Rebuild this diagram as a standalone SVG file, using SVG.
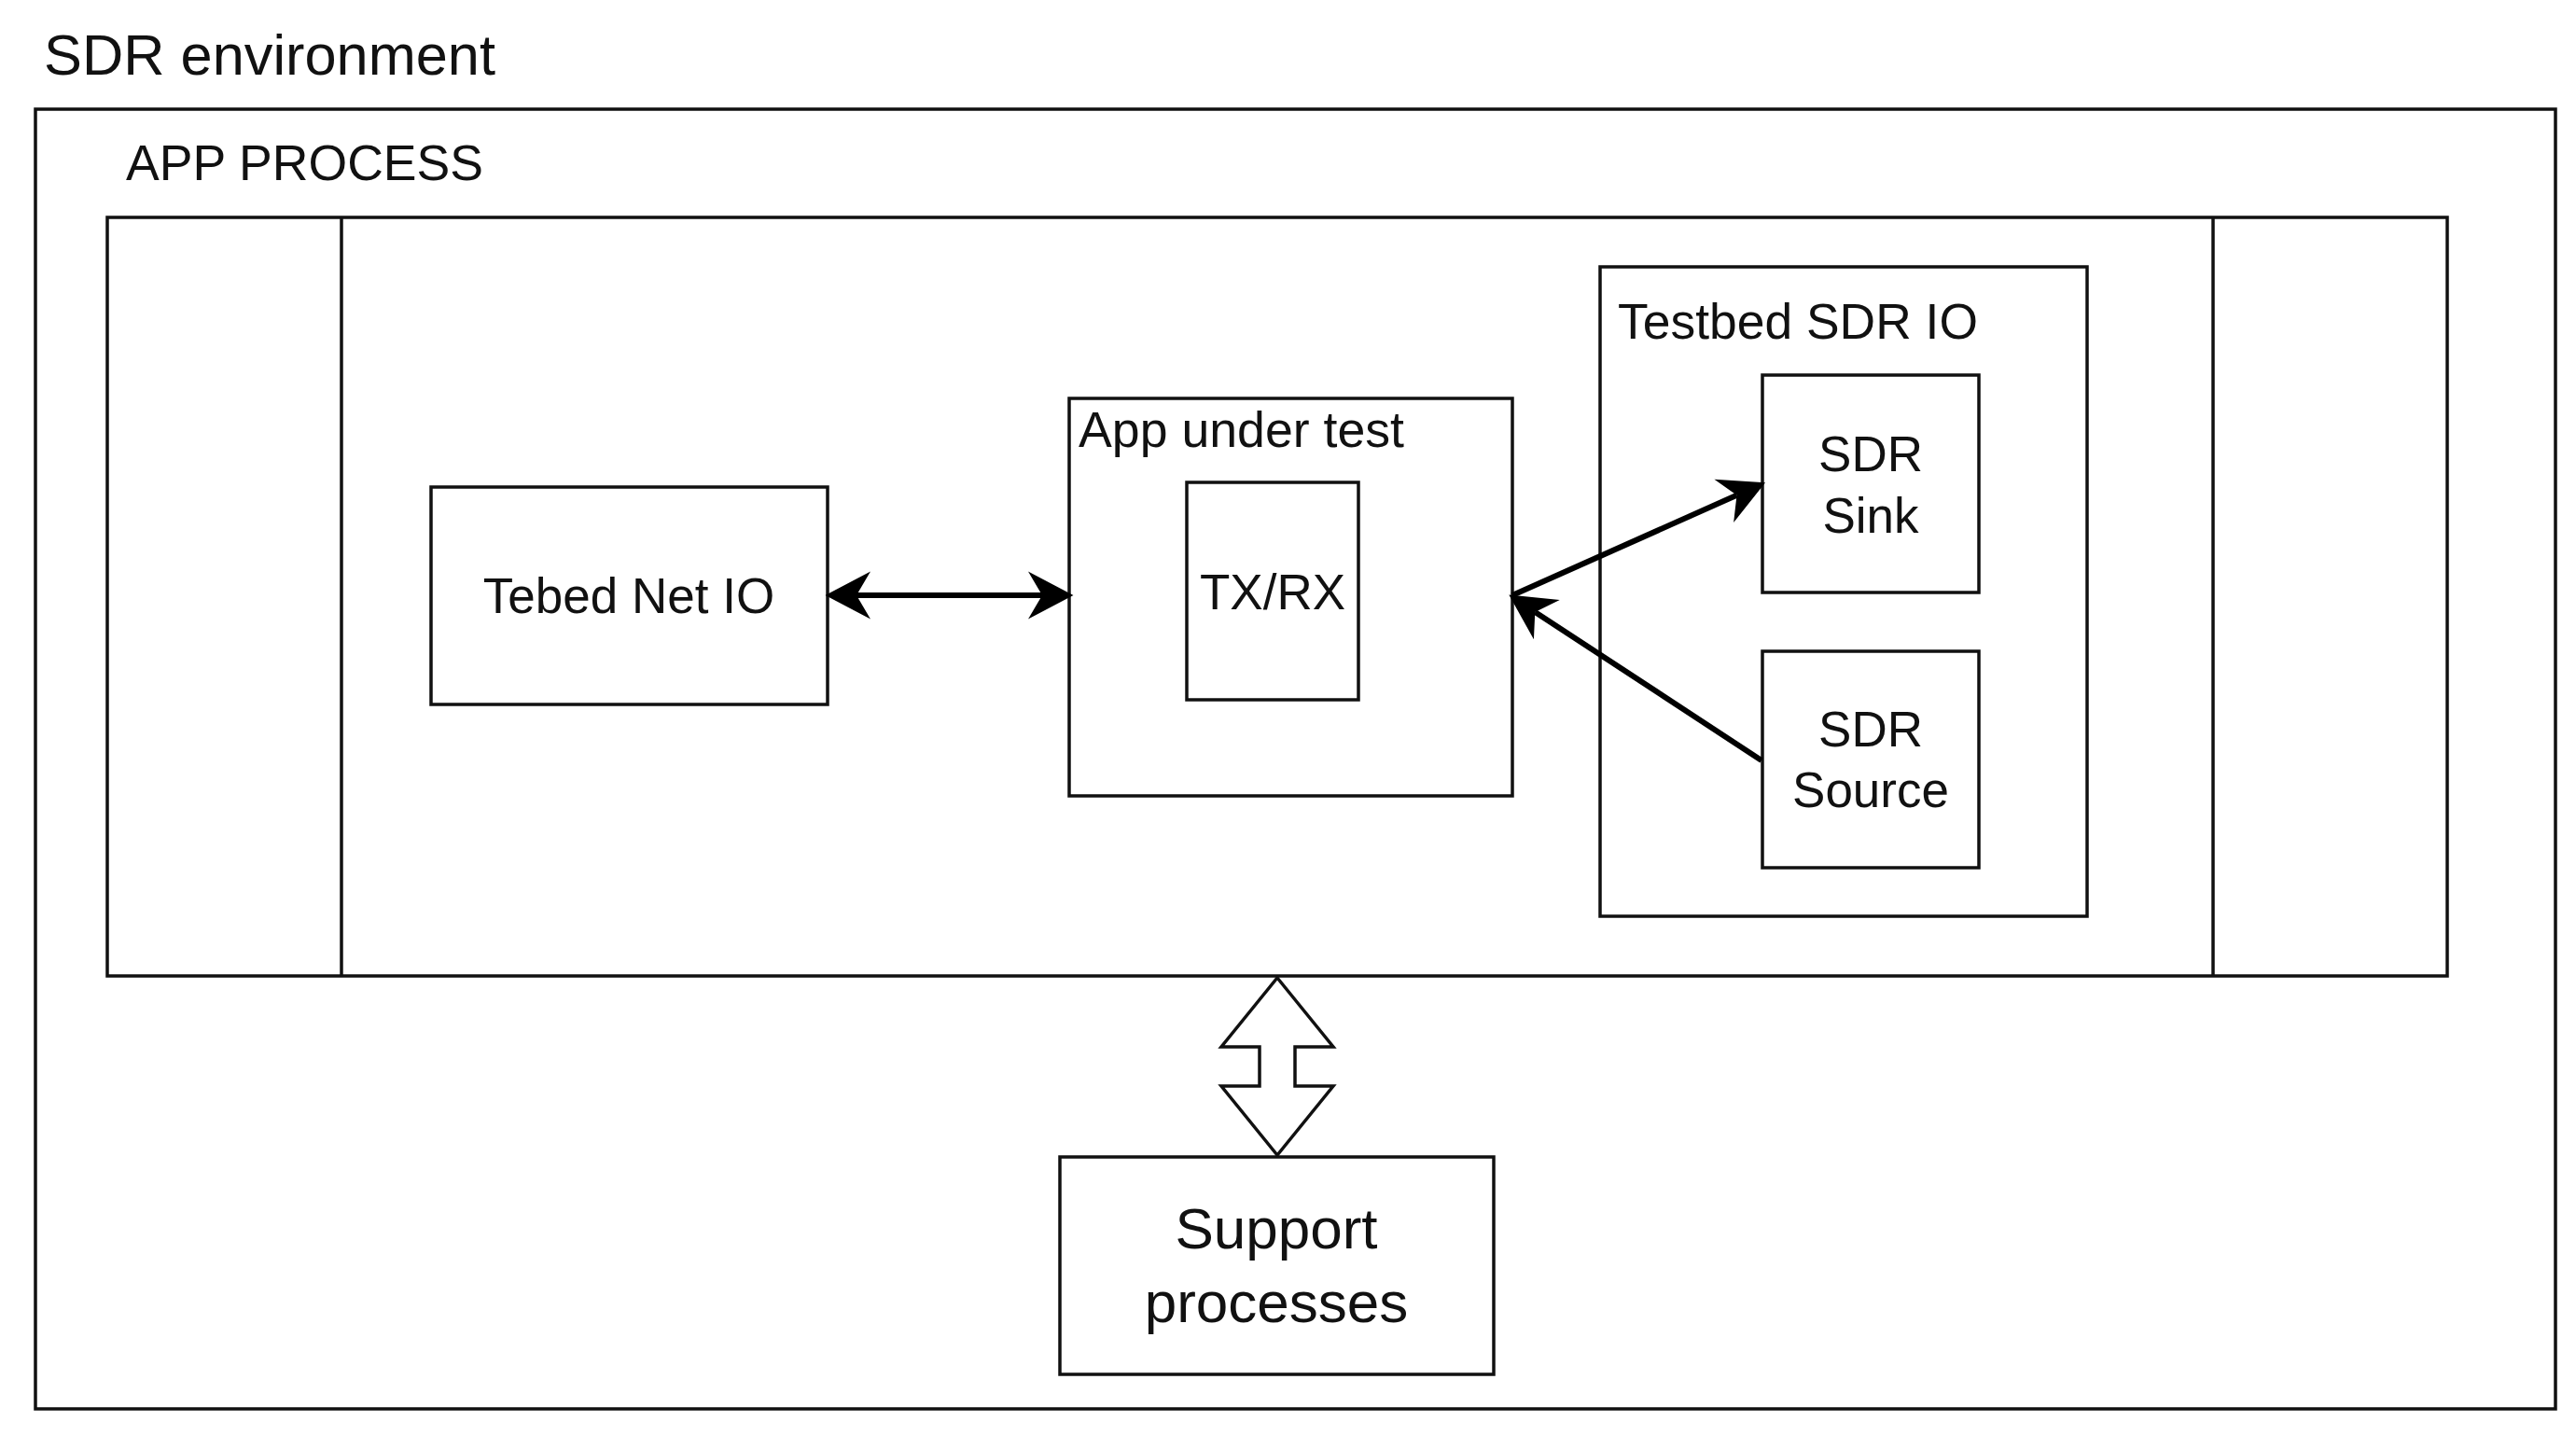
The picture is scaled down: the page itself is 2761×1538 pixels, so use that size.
<svg xmlns="http://www.w3.org/2000/svg" width="2761" height="1538" viewBox="0 0 2761 1538">
<style>
.box{fill:#fff;stroke:#111;stroke-width:3.5}
.ln{fill:none;stroke:#111;stroke-width:3.5}
.t{font-family:"Liberation Sans",Arial,sans-serif;fill:#111}
.c{text-anchor:middle}
.arr{fill:none;stroke:#000;stroke-width:6}
.blk{fill:#fff;stroke:#111;stroke-width:3.5;stroke-linejoin:miter}
</style>
<defs>
<marker id="head" markerUnits="userSpaceOnUse" markerWidth="60" markerHeight="60" viewBox="-2 -26 48 52" refX="13" refY="0" orient="auto-start-reverse">
<path d="M42,0 L0,-22 L13,0 L0,22 Z" fill="#000"/>
</marker>
</defs>
<rect width="2761" height="1538" fill="#fff"/>
<g id="sdr-environment">
<rect class="box" x="38" y="117" width="2701" height="1393"/>
<text class="t" x="47" y="80" font-size="61" textLength="484" lengthAdjust="spacingAndGlyphs">SDR environment</text>
</g>
<g id="app-process">
<rect class="box" x="115" y="233" width="2508" height="813"/>
<line class="ln" x1="366" y1="233" x2="366" y2="1046"/>
<line class="ln" x1="2372" y1="233" x2="2372" y2="1046"/>
<text class="t" x="135" y="193" font-size="53" textLength="383" lengthAdjust="spacingAndGlyphs">APP PROCESS</text>
</g>
<g id="tebed-net-io">
<rect class="box" x="462" y="522" width="425" height="233"/>
<text class="t c" x="674" y="657" font-size="53">Tebed Net IO</text>
</g>
<g id="app-under-test">
<rect class="box" x="1146" y="427" width="475" height="426"/>
<text class="t" x="1156" y="479" font-size="53" textLength="349" lengthAdjust="spacingAndGlyphs">App under test</text>
</g>
<g id="tx-rx">
<rect class="box" x="1272" y="517" width="184" height="233"/>
<text class="t c" x="1364" y="653" font-size="53">TX/RX</text>
</g>
<g id="testbed-sdr-io">
<rect class="box" x="1715" y="286" width="522" height="696"/>
<text class="t" x="1734" y="363" font-size="53" textLength="386" lengthAdjust="spacingAndGlyphs">Testbed SDR IO</text>
</g>
<g id="sdr-sink">
<rect class="box" x="1889" y="402" width="232" height="233"/>
<text class="t c" x="2005" y="505" font-size="53">SDR</text>
<text class="t c" x="2005" y="571" font-size="53">Sink</text>
</g>
<g id="sdr-source">
<rect class="box" x="1889" y="698" width="232" height="232"/>
<text class="t c" x="2005" y="800" font-size="53">SDR</text>
<text class="t c" x="2005" y="865" font-size="53">Source</text>
</g>
<g id="support-processes">
<rect class="box" x="1136" y="1240" width="465" height="233"/>
<text class="t c" x="1368" y="1338" font-size="62">Support</text>
<text class="t c" x="1368" y="1417" font-size="62">processes</text>
</g>
<g id="connectors">
<line class="arr" x1="918" y1="638" x2="1117" y2="638" marker-start="url(#head)" marker-end="url(#head)"/>
<line class="arr" x1="1621" y1="638" x2="1861.5" y2="530.8" marker-end="url(#head)"/>
<line class="arr" x1="1888" y1="815" x2="1645.3" y2="655.9" marker-end="url(#head)"/>
<polygon class="blk" points="1369,1048 1429,1122 1388,1122 1388,1164 1429,1164 1369,1238 1309,1164 1350,1164 1350,1122 1309,1122"/>
</g>
</svg>
